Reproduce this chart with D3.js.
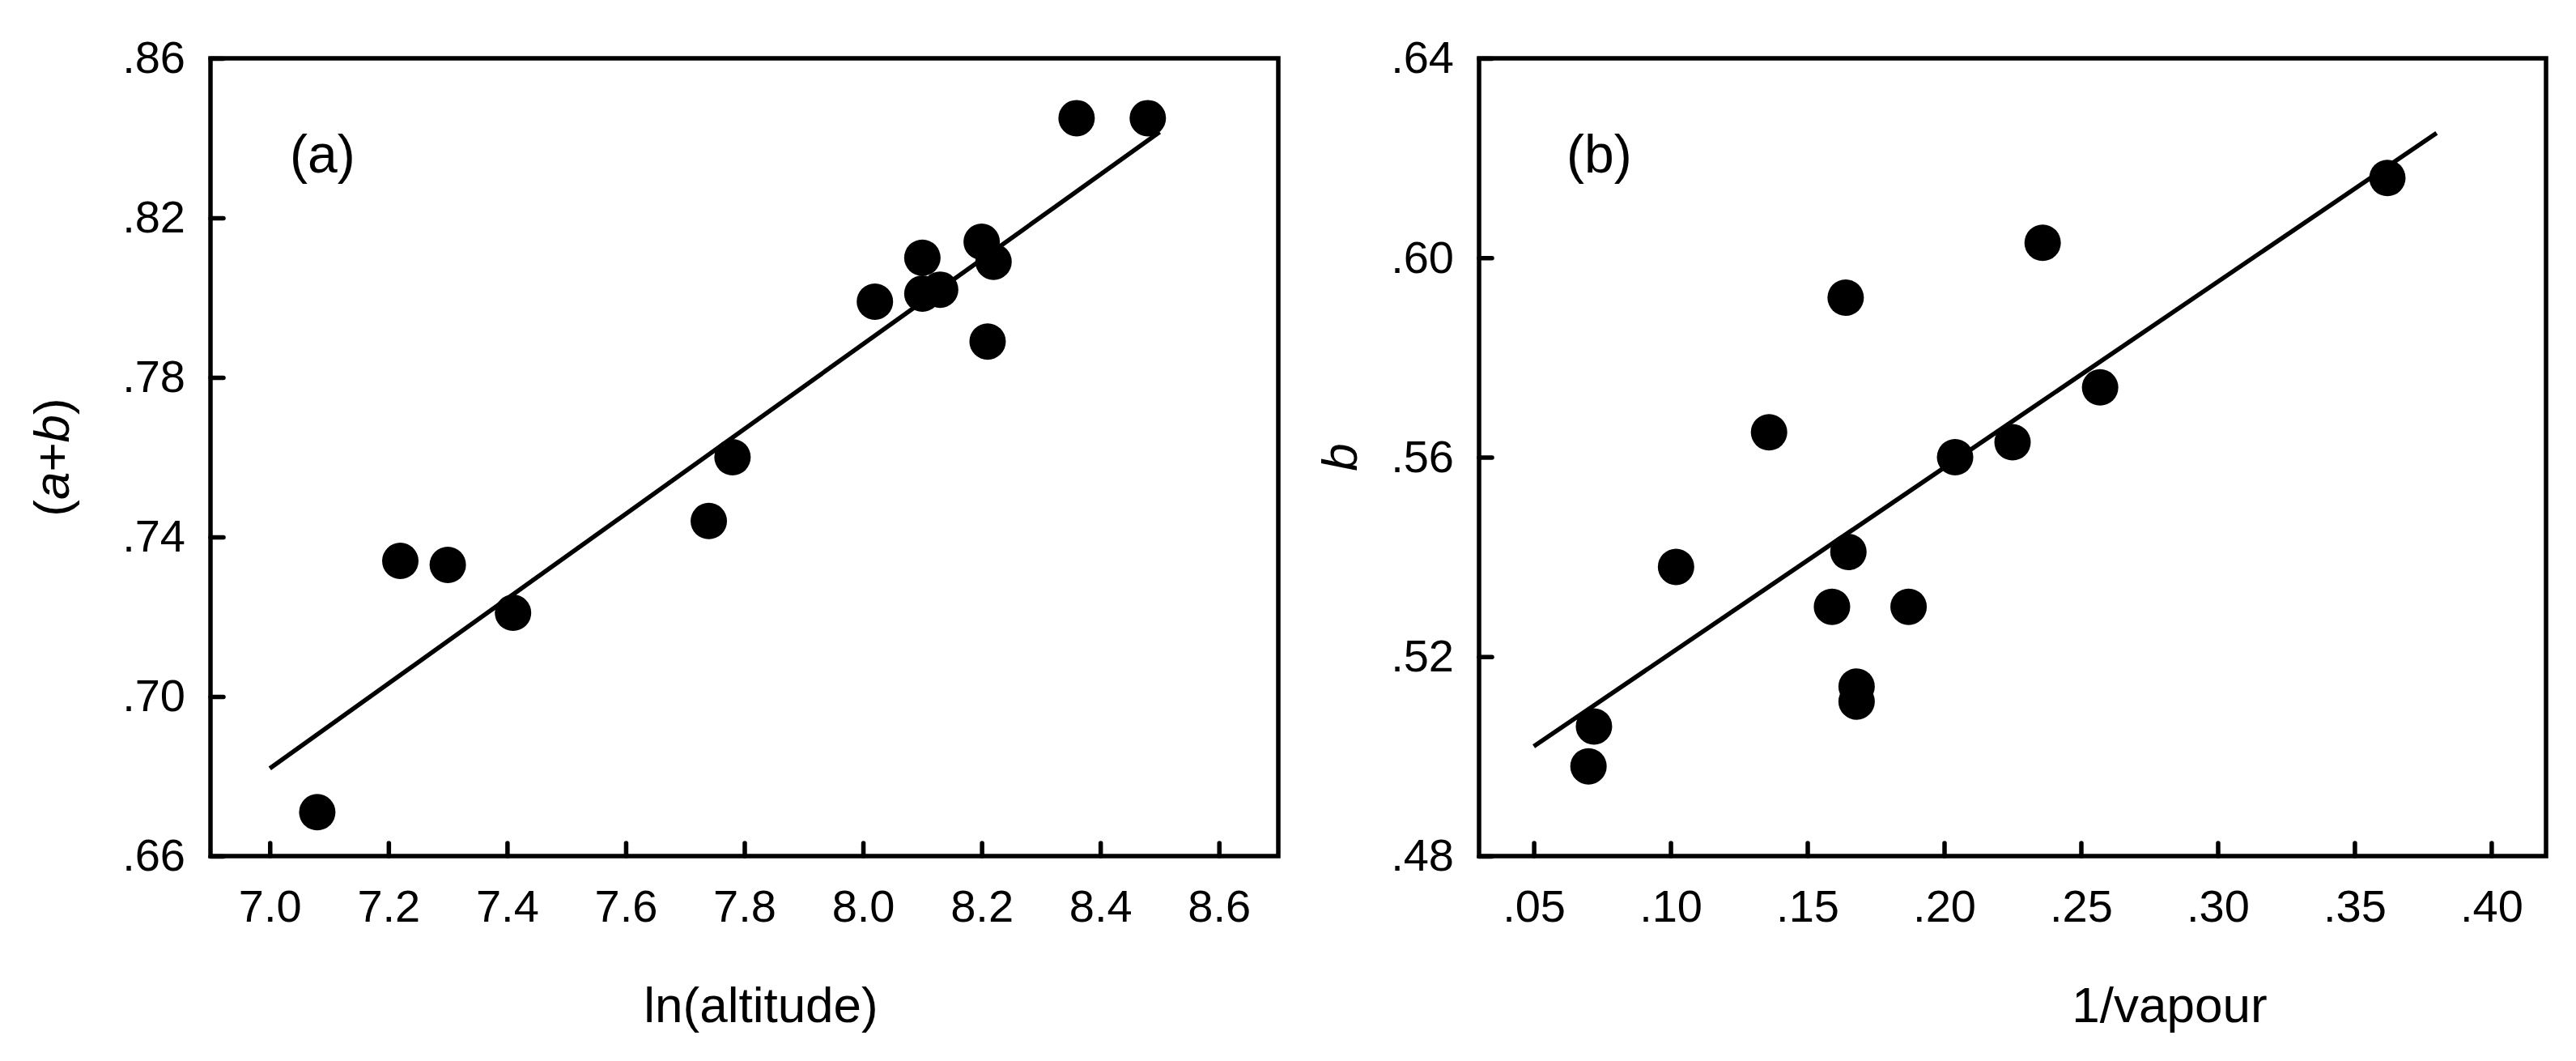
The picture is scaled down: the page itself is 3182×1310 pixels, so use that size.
<!DOCTYPE html>
<html>
<head>
<meta charset="utf-8">
<script src="https://cdn.jsdelivr.net/npm/d3@7"></script>
<style>
  body { margin: 0; background: #fff; }
  svg text { font-family: "Liberation Sans", Arial, sans-serif; fill: #000; }
  .tick text { font-size: 56px; }
  .axis-title { font-size: 62px; }
  .panel-tag { font-size: 66px; }
</style>
</head>
<body>
<script>
// panel (a): ln(altitude) vs (a+b)
var altX = [7.08, 7.22, 7.30, 7.41, 7.74, 7.78, 8.02, 8.10, 8.10, 8.13, 8.20, 8.22, 8.21, 8.36, 8.48];
var altY = [0.671, 0.734, 0.733, 0.721, 0.744, 0.760, 0.799, 0.810, 0.801, 0.802, 0.814, 0.809, 0.789, 0.845, 0.845];
var altFitX = [7.0, 8.5];
var altFitY = [0.682, 0.8415];
var altXTicks = [7.0, 7.2, 7.4, 7.6, 7.8, 8.0, 8.2, 8.4, 8.6];
var altYTicks = [0.66, 0.70, 0.74, 0.78, 0.82, 0.86];

// panel (b): 1/vapour vs b
var vapX = [0.070, 0.072, 0.102, 0.136, 0.159, 0.164, 0.165, 0.168, 0.168, 0.187, 0.204, 0.225, 0.236, 0.257, 0.362];
var vapY = [0.498, 0.506, 0.538, 0.565, 0.530, 0.592, 0.541, 0.514, 0.511, 0.530, 0.560, 0.563, 0.603, 0.574, 0.616];
var vapFitX = [0.05, 0.38];
var vapFitY = [0.502, 0.625];
var vapXTicks = [0.05, 0.10, 0.15, 0.20, 0.25, 0.30, 0.35, 0.40];
var vapYTicks = [0.48, 0.52, 0.56, 0.60, 0.64];

var width = 3182,
height = 1310,
frameTop = 72,
frameBottom = 1057,
dotR = 22.5;

var svg = d3.select('body')
			.append('svg')
			.attr('width', width)
			.attr('height', height);

function noLead(fmt){
	return function(d){ return d3.format(fmt)(d).replace(/^0\./, '.'); };
}

function drawPanel(p){
	var x = d3.scaleLinear()
			.domain(p.xDomain)
			.range([p.left, p.right]);

	var y = d3.scaleLinear()
			.domain(p.yDomain)
			.range([frameBottom, frameTop]);

	var g = svg.append('g').attr('class', 'panel');

	// x axis, ticks pointing inward
	g.append('g')
		.attr('class', 'axis')
		.attr('transform', 'translate(0,' + frameBottom + ')')
		.call(d3.axisBottom(x)
				.tickValues(p.xTicks)
				.tickFormat(p.xFormat)
				.tickSizeInner(-16)
				.tickSizeOuter(0)
				.tickPadding(41));

	g.append('g')
		.attr('class', 'axis')
		.attr('transform', 'translate(' + p.left + ',0)')
		.call(d3.axisLeft(y)
				.tickValues(p.yTicks)
				.tickFormat(p.yFormat)
				.tickSizeInner(-16)
				.tickSizeOuter(0)
				.tickPadding(31));

	g.selectAll('.domain').remove();
	g.selectAll('.tick line')
		.attr('stroke', '#000')
		.attr('stroke-width', 5.5)
		.attr('stroke-linecap', 'round');
	g.selectAll('.tick text')
		.attr('font-family', null)
		.attr('font-size', null);

	// frame
	g.append('rect')
		.attr('x', p.left)
		.attr('y', frameTop)
		.attr('width', p.right - p.left)
		.attr('height', frameBottom - frameTop)
		.attr('fill', 'none')
		.attr('stroke', '#000')
		.attr('stroke-width', 5.5);

	// fitted line
	var line = d3.line()
			.x(function(d){ return x(d[0]); })
			.y(function(d){ return y(d[1]); });

	g.append('path')
		.datum(d3.zip(p.fitX, p.fitY))
		.attr('d', line)
		.attr('fill', 'none')
		.attr('stroke', '#000')
		.attr('stroke-width', 5.5);

	g.selectAll('circle')
		.data(d3.zip(p.xs, p.ys))
		.enter()
		.append('circle')
		.attr('cx', function(d){ return x(d[0]); })
		.attr('cy', function(d){ return y(d[1]); })
		.attr('r', dotR)
		.attr('fill', '#000');

	g.append('text')
		.attr('class', 'panel-tag')
		.attr('x', p.left + p.tagDx)
		.attr('y', 213)
		.text(p.tag);

	g.append('text')
		.attr('class', 'axis-title')
		.attr('text-anchor', 'middle')
		.attr('x', p.xTitleX)
		.attr('y', 1262)
		.text(p.xTitle);

	var yt = g.append('text')
		.attr('class', 'axis-title')
		.attr('text-anchor', 'middle')
		.attr('transform', 'translate(' + (p.left + p.yTitleDx) + ',' + ((frameTop + frameBottom) / 2) + ') rotate(-90)');
	p.yTitle(yt);
}

drawPanel({
	left: 260, right: 1579,
	xDomain: [6.9, 8.7], yDomain: [0.66, 0.86],
	xTicks: altXTicks, yTicks: altYTicks,
	xFormat: d3.format('.1f'), yFormat: noLead('.2f'),
	xs: altX, ys: altY, fitX: altFitX, fitY: altFitY,
	tag: '(a)', tagDx: 98,
	xTitle: 'ln(altitude)', xTitleX: 940,
	yTitleDx: -175,
	yTitle: function(t){
		t.append('tspan').text('(');
		t.append('tspan').attr('font-style', 'italic').text('a');
		t.append('tspan').text('+');
		t.append('tspan').attr('font-style', 'italic').text('b');
		t.append('tspan').text(')');
	}
});

drawPanel({
	left: 1827, right: 3145,
	xDomain: [0.03, 0.42], yDomain: [0.48, 0.64],
	xTicks: vapXTicks, yTicks: vapYTicks,
	xFormat: noLead('.2f'), yFormat: noLead('.2f'),
	xs: vapX, ys: vapY, fitX: vapFitX, fitY: vapFitY,
	tag: '(b)', tagDx: 108,
	xTitle: '1/vapour', xTitleX: 2680,
	yTitleDx: -151,
	yTitle: function(t){
		t.append('tspan').attr('font-style', 'italic').text('b');
	}
});
</script>
</body>
</html>
